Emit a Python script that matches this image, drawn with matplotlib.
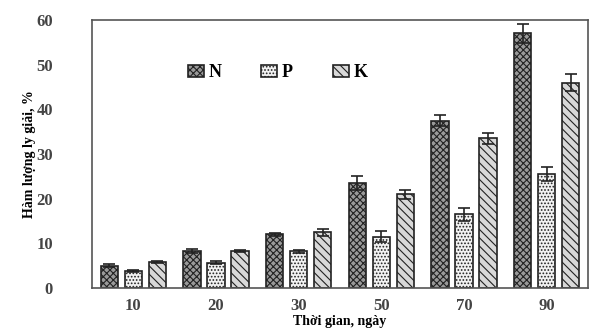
import numpy as np
import matplotlib.pyplot as plt

plt.rcParams['font.family'] = ['Liberation Serif', 'DejaVu Serif']
plt.rcParams['hatch.linewidth'] = 0.8

days = ['10', '20', '30', '50', '70', '90']
n_vals = [5.0, 8.3, 12.0, 23.5, 37.5, 57.0]
p_vals = [3.8, 5.7, 8.2, 11.5, 16.5, 25.5]
k_vals = [5.8, 8.3, 12.5, 21.0, 33.5, 46.0]
n_err = [0.3, 0.4, 0.4, 1.5, 1.3, 2.2]
p_err = [0.3, 0.3, 0.3, 1.3, 1.5, 1.5]
k_err = [0.3, 0.3, 0.8, 1.0, 1.3, 1.8]

fig = plt.figure(figsize=(6.06, 3.31), dpi=100)
ax = fig.add_axes([92 / 606, 43 / 331, 496 / 606, 268 / 331])

x = np.arange(len(days))
w = 0.21
off = 0.29
series = [
    ('N', n_vals, n_err, -off, 'xxxxx', '#9a9a9a'),
    ('P', p_vals, p_err, 0, '.....', '#f2f2f2'),
    ('K', k_vals, k_err, off, '\\\\\\\\', '#d8d8d8'),
]
for name, vals, err, dx, hatch, fc in series:
    ax.bar(x + dx, vals, w, yerr=err, color=fc, edgecolor='#222222',
           linewidth=1.2, hatch=hatch, label=name,
           error_kw=dict(ecolor='#222222', elinewidth=1.2, capsize=4, capthick=1.2))

ax.set_xlim(-0.5, 5.5)
ax.set_ylim(0, 60)
ax.set_yticks(range(0, 61, 10))
ax.set_xticks(x)
ax.set_xticklabels(days)
ax.tick_params(length=0, labelsize=12, pad=7)
ax.tick_params(axis='y', pad=28)
for lab in ax.get_xticklabels() + ax.get_yticklabels():
    lab.set_fontweight('bold')
    lab.set_color('#444444')
for sp in ax.spines.values():
    sp.set_color('#555555')
    sp.set_linewidth(1.2)

ax.set_xlabel('Thời gian, ngày', fontsize=10, fontweight='bold', labelpad=1)
ax.set_ylabel('Hàm lượng ly giải, %', fontsize=10, fontweight='bold', labelpad=0)

leg = ax.legend(loc='upper left', bbox_to_anchor=(0.16, 0.895), ncol=3, frameon=False,
                handlelength=0.9, handleheight=0.7, handletextpad=0.25,
                columnspacing=2.2, prop={'weight': 'bold', 'size': 13})

fig.savefig('out.png', dpi=100)
